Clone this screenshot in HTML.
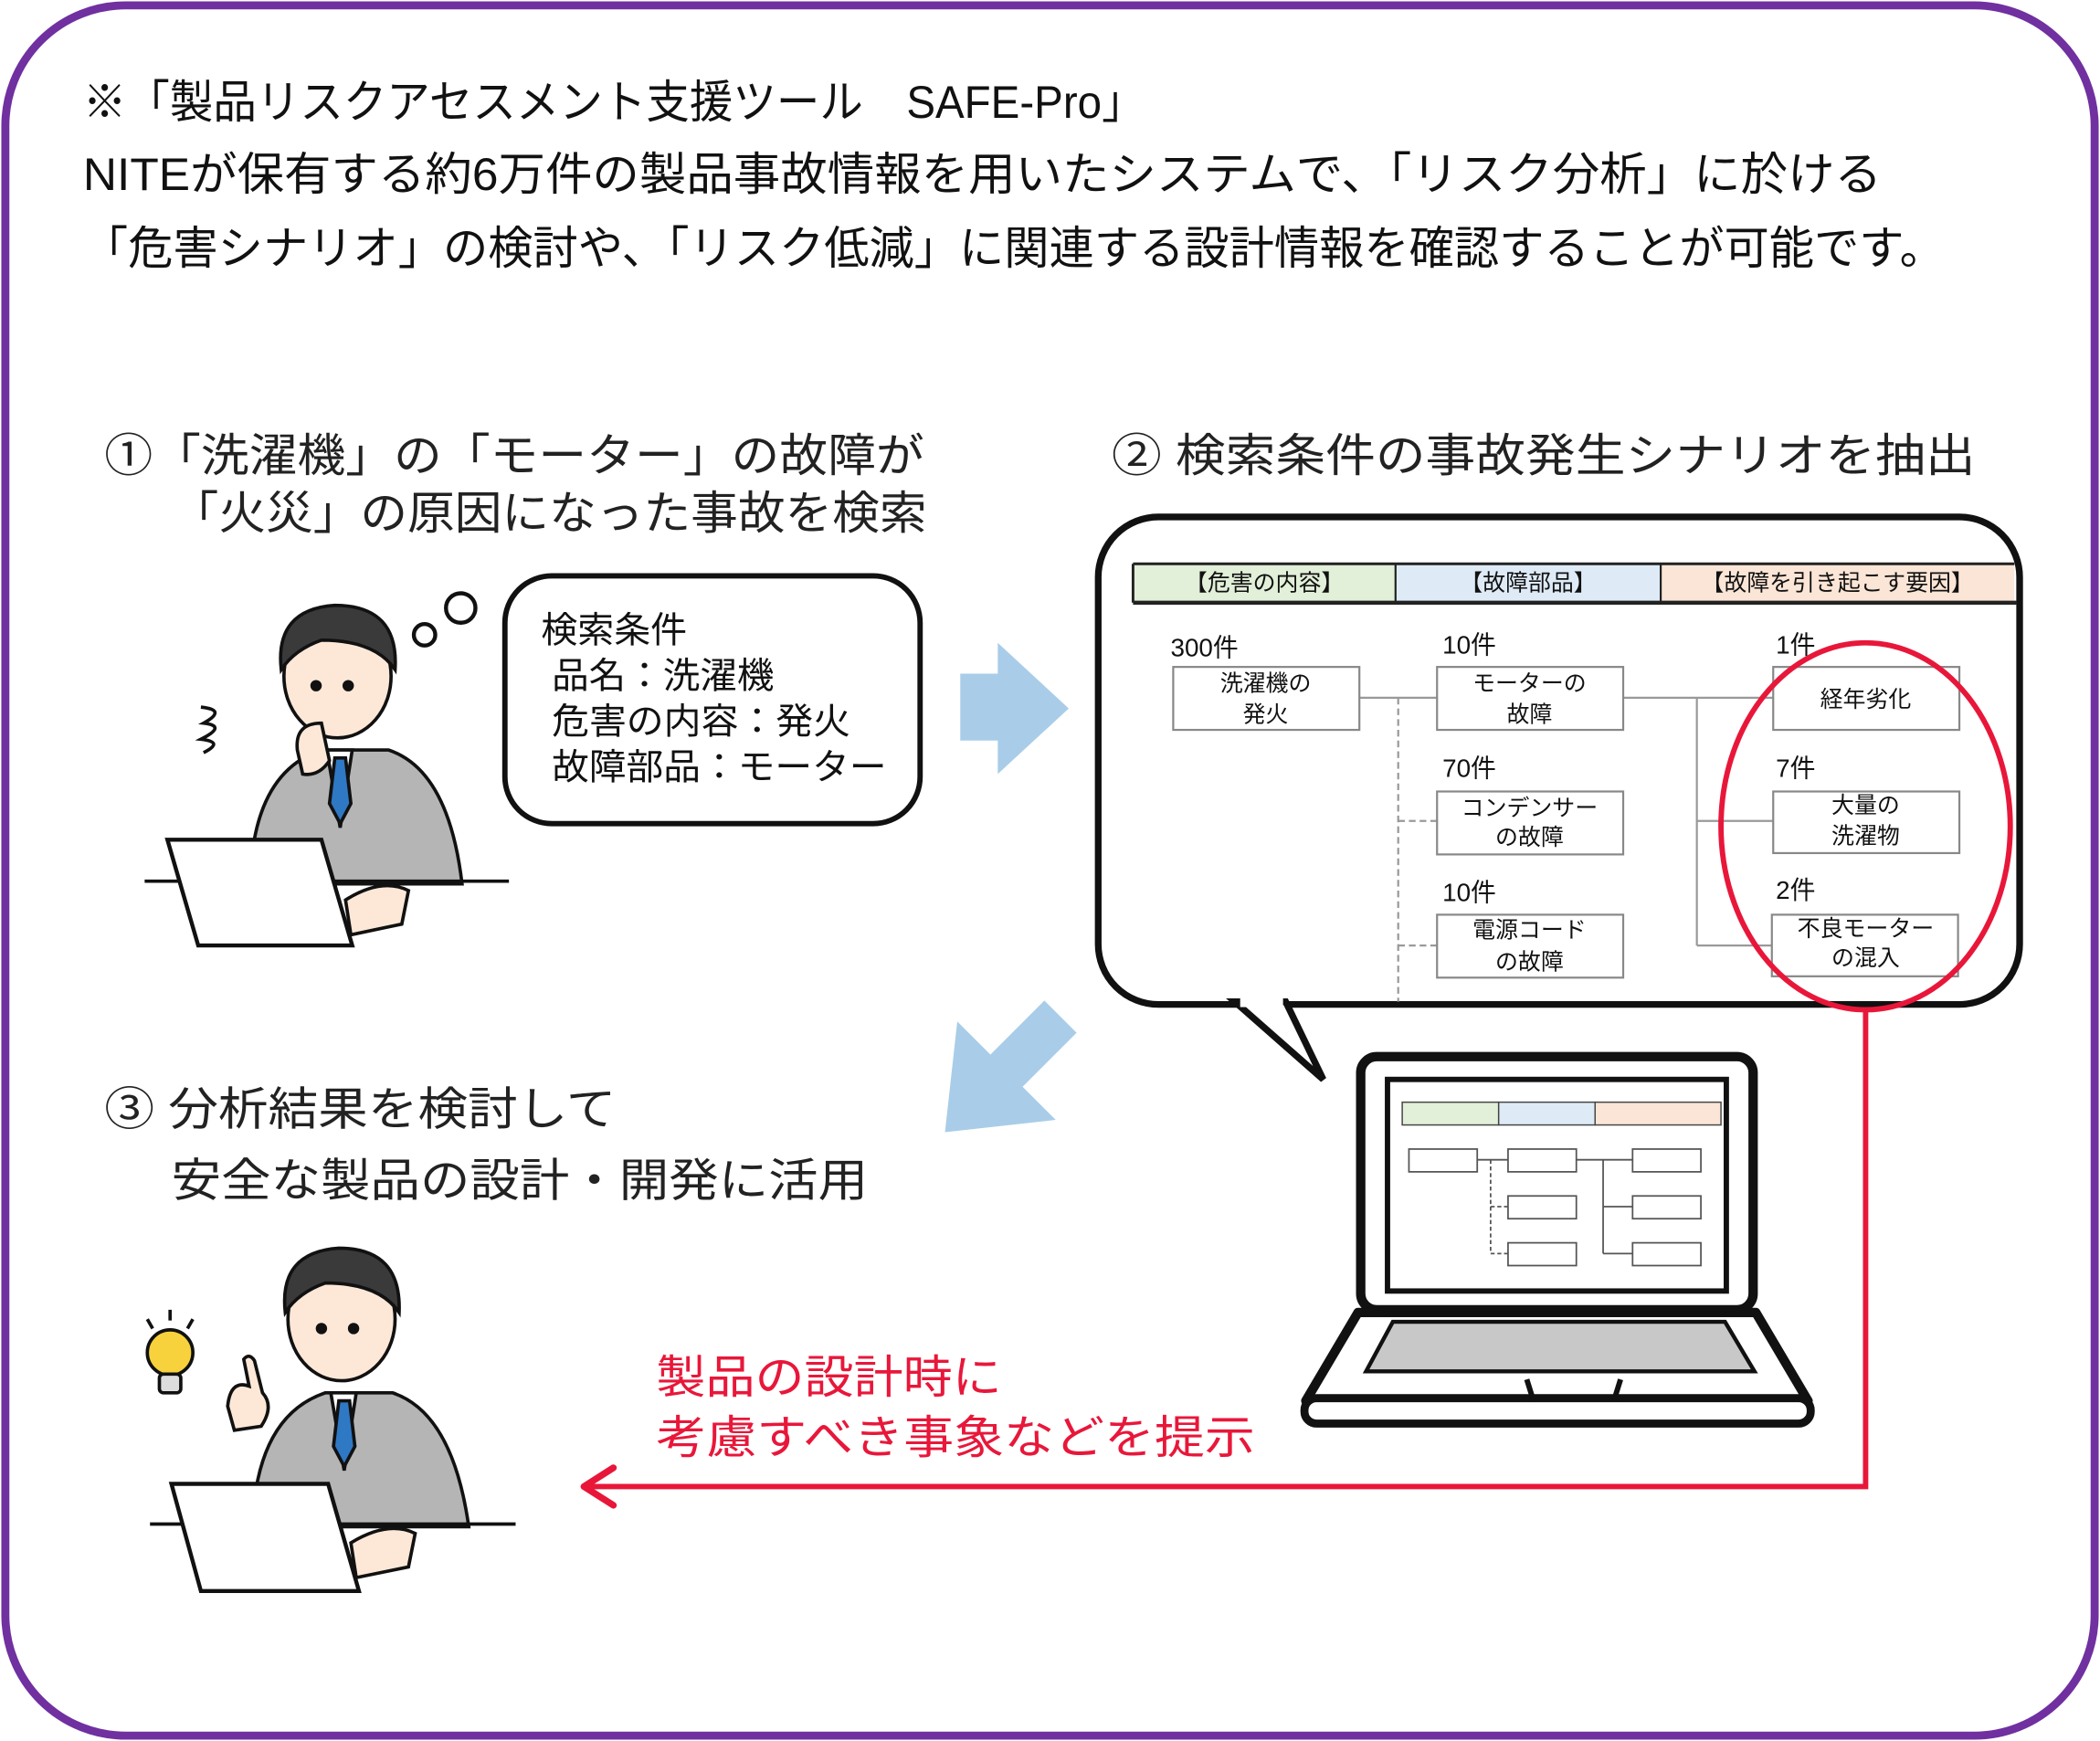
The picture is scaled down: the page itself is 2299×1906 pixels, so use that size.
<!DOCTYPE html>
<html><head><meta charset="utf-8"><style>
html,body{margin:0;padding:0;background:#fff;}
svg{display:block;}
text{font-family:"Liberation Sans","Noto Sans CJK JP",sans-serif;}
</style></head><body>
<svg width="2299" height="1906" viewBox="0 0 1568 1300" preserveAspectRatio="none" xmlns="http://www.w3.org/2000/svg">
<rect x="4" y="4" width="1560" height="1292" rx="90" fill="#fff" stroke="#7030a0" stroke-width="6"/>
<g font-size="34" fill="#111" lengthAdjust="spacingAndGlyphs">
<text x="62" y="88" textLength="793" lengthAdjust="spacingAndGlyphs">※「製品リスクアセスメント支援ツール　SAFE-Pro」</text>
<text x="62" y="142" textLength="1343" lengthAdjust="spacingAndGlyphs">NITEが保有する約6万件の製品事故情報を用いたシステムで、「リスク分析」に於ける</text>
<text x="62" y="197" textLength="1390" lengthAdjust="spacingAndGlyphs">「危害シナリオ」の検討や、「リスク低減」に関連する設計情報を確認することが可能です。</text>
</g>
<g font-size="34" fill="#222">
<text x="78" y="352" textLength="612" lengthAdjust="spacingAndGlyphs">①「洗濯機」の「モーター」の故障が</text>
<text x="128" y="395" textLength="564" lengthAdjust="spacingAndGlyphs">「火災」の原因になった事故を検索</text>
<text x="830" y="352" textLength="645" lengthAdjust="spacingAndGlyphs">② 検索条件の事故発生シナリオを抽出</text>
<text x="78" y="840" textLength="382" lengthAdjust="spacingAndGlyphs">③ 分析結果を検討して</text>
<text x="128" y="893" textLength="520" lengthAdjust="spacingAndGlyphs">安全な製品の設計・開発に活用</text>
</g>
<rect x="377" y="430" width="310" height="185" rx="35" fill="#fff" stroke="#111" stroke-width="4"/>
<circle cx="317" cy="474" r="8" fill="#fff" stroke="#111" stroke-width="3"/>
<circle cx="344" cy="454" r="11" fill="#fff" stroke="#111" stroke-width="3"/>
<g font-size="27" fill="#111">
<text x="404" y="480" textLength="109" lengthAdjust="spacingAndGlyphs">検索条件</text>
<text x="412" y="514" textLength="166" lengthAdjust="spacingAndGlyphs">品名：洗濯機</text>
<text x="412" y="548" textLength="223" lengthAdjust="spacingAndGlyphs">危害の内容：発火</text>
<text x="412" y="582" textLength="250" lengthAdjust="spacingAndGlyphs">故障部品：モーター</text>
</g>
<polygon points="717,503 745,503 745,480 798,529 745,578 745,553 717,553" fill="#a9cde8"/>
<g transform="translate(748,803) rotate(135)">
<polygon points="-62,-17 -5,-17 -5,-52 60,0 -5,52 -5,17 -62,17" fill="#a9cde8"/>
</g>
<rect x="820" y="386" width="688" height="364" rx="45" fill="#fff" stroke="#111" stroke-width="5"/>
<polygon points="922,748 988,806 960,748" fill="#fff" stroke="#111" stroke-width="5" stroke-linejoin="miter"/>
<rect x="926" y="744" width="32" height="8" fill="#fff"/>
<rect x="846" y="421" width="196" height="29" fill="#e2efd9"/>
<rect x="1042" y="421" width="198" height="29" fill="#deebf7"/>
<rect x="1240" y="421" width="264" height="29" fill="#fbe5d6"/>
<g stroke="#222" fill="none">
<line x1="846" y1="421" x2="1504" y2="421" stroke-width="2"/>
<line x1="846" y1="450" x2="1506" y2="450" stroke-width="3"/>
<line x1="846" y1="421" x2="846" y2="450" stroke-width="2"/>
<line x1="1042" y1="421" x2="1042" y2="450" stroke-width="1.5"/>
<line x1="1240" y1="421" x2="1240" y2="450" stroke-width="1.5"/>
</g>
<g font-size="17" fill="#111" text-anchor="middle">
<text x="944" y="441">【危害の内容】</text>
<text x="1141" y="441">【故障部品】</text>
<text x="1372" y="441">【故障を引き起こす要因】</text>
</g>
<g stroke="#999" stroke-width="1.5" fill="none">
<line x1="1015" y1="521" x2="1073" y2="521"/>
<line x1="1212" y1="521" x2="1324" y2="521"/>
<line x1="1267" y1="521" x2="1267" y2="706"/>
<line x1="1267" y1="613" x2="1324" y2="613"/>
<line x1="1267" y1="706" x2="1324" y2="706"/>
<g stroke-dasharray="5,3">
<line x1="1044" y1="521" x2="1044" y2="748"/>
<line x1="1044" y1="613" x2="1073" y2="613"/>
<line x1="1044" y1="706" x2="1073" y2="706"/>
</g>
</g>
<g fill="#fff" stroke="#888" stroke-width="1.5">
<rect x="876" y="498" width="139" height="47"/>
<rect x="1073" y="498" width="139" height="47"/>
<rect x="1073" y="591" width="139" height="47"/>
<rect x="1073" y="683" width="139" height="47"/>
<rect x="1324" y="498" width="139" height="47"/>
<rect x="1324" y="591" width="139" height="46"/>
<rect x="1323" y="683" width="139" height="46"/>
</g>
<g font-size="19" fill="#111">
<text x="874" y="490">300件</text>
<text x="1077" y="488">10件</text>
<text x="1077" y="580">70件</text>
<text x="1077" y="673">10件</text>
<text x="1326" y="488">1件</text>
<text x="1326" y="580">7件</text>
<text x="1326" y="671">2件</text>
</g>
<g font-size="17" fill="#111" text-anchor="middle">
<text x="945" y="516">洗濯機の</text><text x="945" y="539">発火</text>
<text x="1142" y="516">モーターの</text><text x="1142" y="539">故障</text>
<text x="1142" y="609">コンデンサー</text><text x="1142" y="631">の故障</text>
<text x="1142" y="700">電源コード</text><text x="1142" y="724">の故障</text>
<text x="1393" y="528">経年劣化</text>
<text x="1393" y="607">大量の</text><text x="1393" y="630">洗濯物</text>
<text x="1393" y="699">不良モーター</text><text x="1393" y="721">の混入</text>
</g>
<ellipse cx="1393" cy="617" rx="108" ry="137" fill="none" stroke="#e8173a" stroke-width="4"/>
<polyline points="1393,754 1393,1110 440,1110" fill="none" stroke="#e8173a" stroke-width="4"/>
<polyline points="458,1096 436,1110 458,1124" fill="none" stroke="#e8173a" stroke-width="5" stroke-linecap="round" stroke-linejoin="round"/>
<g font-size="34" fill="#e8173a">
<text x="490" y="1040" textLength="258" lengthAdjust="spacingAndGlyphs">製品の設計時に</text>
<text x="490" y="1085" textLength="447" lengthAdjust="spacingAndGlyphs">考慮すべき事象などを提示</text>
</g>
<rect x="1016" y="789" width="293" height="189" rx="12" fill="#fff" stroke="#111" stroke-width="7"/>
<rect x="1036" y="806" width="253" height="158" fill="#fff" stroke="#111" stroke-width="4"/>
<rect x="1047" y="823" width="72" height="17" fill="#e2efd9" stroke="#444" stroke-width="1"/>
<rect x="1119" y="823" width="72" height="17" fill="#deebf7" stroke="#444" stroke-width="1"/>
<rect x="1191" y="823" width="94" height="17" fill="#fbe5d6" stroke="#444" stroke-width="1"/>
<g fill="#fff" stroke="#555" stroke-width="1.2">
<rect x="1052" y="858" width="51" height="17"/>
<rect x="1126" y="858" width="51" height="17"/>
<rect x="1126" y="893" width="51" height="17"/>
<rect x="1126" y="928" width="51" height="17"/>
<rect x="1219" y="858" width="51" height="17"/>
<rect x="1219" y="893" width="51" height="17"/>
<rect x="1219" y="928" width="51" height="17"/>
<line x1="1103" y1="866" x2="1126" y2="866"/>
<line x1="1177" y1="866" x2="1219" y2="866"/>
<line x1="1197" y1="866" x2="1197" y2="936"/>
<line x1="1197" y1="901" x2="1219" y2="901"/>
<line x1="1197" y1="936" x2="1219" y2="936"/>
<line x1="1113" y1="866" x2="1113" y2="936" stroke-dasharray="3,2"/>
<line x1="1113" y1="901" x2="1126" y2="901" stroke-dasharray="3,2"/>
<line x1="1113" y1="936" x2="1126" y2="936" stroke-dasharray="3,2"/>
</g>
<polygon points="1014,980 1311,980 1350,1046 975,1046" fill="#fff" stroke="#111" stroke-width="7" stroke-linejoin="round"/>
<polygon points="1040,987 1288,987 1310,1024 1020,1024" fill="#c8c8c8" stroke="#111" stroke-width="3"/>
<rect x="974" y="1044" width="378" height="19" rx="9" fill="#fff" stroke="#111" stroke-width="6"/>
<line x1="1140" y1="1030" x2="1145" y2="1046" stroke="#111" stroke-width="4"/>
<line x1="1210" y1="1030" x2="1205" y2="1046" stroke="#111" stroke-width="4"/>
<g stroke="#111" stroke-width="2.5">
<path d="M188,640 Q195,575 240,560 L290,560 Q335,575 345,660 L188,660 Z" fill="#b5b5b5"/>
<path d="M244,560 L254,618 L263,560 Z" fill="#fff"/>
<path d="M250,566 L258,566 L262,600 L254,615 L246,600 Z" fill="#2f78c4"/>
<ellipse cx="252" cy="505" rx="40" ry="46" fill="#fde8d8"/>
<path d="M210,500 Q205,455 250,452 Q298,452 295,500 Q280,478 240,478 Q220,485 210,500 Z" fill="#3a3a3a"/>
<path d="M222,560 Q220,540 240,540 L246,568 Q238,580 226,578 Z" fill="#fde8d8"/>
<circle cx="236" cy="512" r="3" fill="#111"/><circle cx="260" cy="512" r="3" fill="#111"/>
<path d="M150,528 Q170,530 152,540 Q170,542 150,552 Q168,554 152,562" fill="none"/>
<line x1="108" y1="658" x2="380" y2="658"/>
<polygon points="125,627 240,627 263,706 148,706" fill="#fff" stroke-width="3"/>
<path d="M258,672 Q285,655 305,665 L300,690 L262,698 Z" fill="#fde8d8"/>
</g>
<g stroke="#111" stroke-width="2.5">
<path d="M190,1120 Q198,1055 243,1040 L293,1040 Q338,1055 350,1140 L190,1140 Z" fill="#b5b5b5"/>
<path d="M247,1040 L257,1098 L266,1040 Z" fill="#fff"/>
<path d="M253,1046 L261,1046 L265,1080 L257,1095 L249,1080 Z" fill="#2f78c4"/>
<ellipse cx="255" cy="985" rx="40" ry="46" fill="#fde8d8"/>
<path d="M213,980 Q208,935 253,932 Q300,932 298,980 Q283,958 243,958 Q223,965 213,980 Z" fill="#3a3a3a"/>
<circle cx="240" cy="992" r="3" fill="#111"/><circle cx="264" cy="992" r="3" fill="#111"/>
<path d="M170,1050 Q172,1030 186,1035 L182,1015 Q186,1010 190,1016 L196,1040 Q205,1050 195,1065 L175,1068 Z" fill="#fde8d8"/>
<line x1="112" y1="1138" x2="385" y2="1138"/>
<polygon points="128,1108 245,1108 268,1188 150,1188" fill="#fff" stroke-width="3"/>
<path d="M262,1152 Q290,1135 310,1145 L305,1170 L266,1178 Z" fill="#fde8d8"/>
<circle cx="127" cy="1010" r="17" fill="#f7d23c"/>
<rect x="119" y="1026" width="16" height="14" rx="3" fill="#ddd"/>
<line x1="110" y1="985" x2="114" y2="992"/><line x1="127" y1="978" x2="127" y2="986"/><line x1="144" y1="985" x2="140" y2="992"/>
</g>
</svg>
</body></html>
